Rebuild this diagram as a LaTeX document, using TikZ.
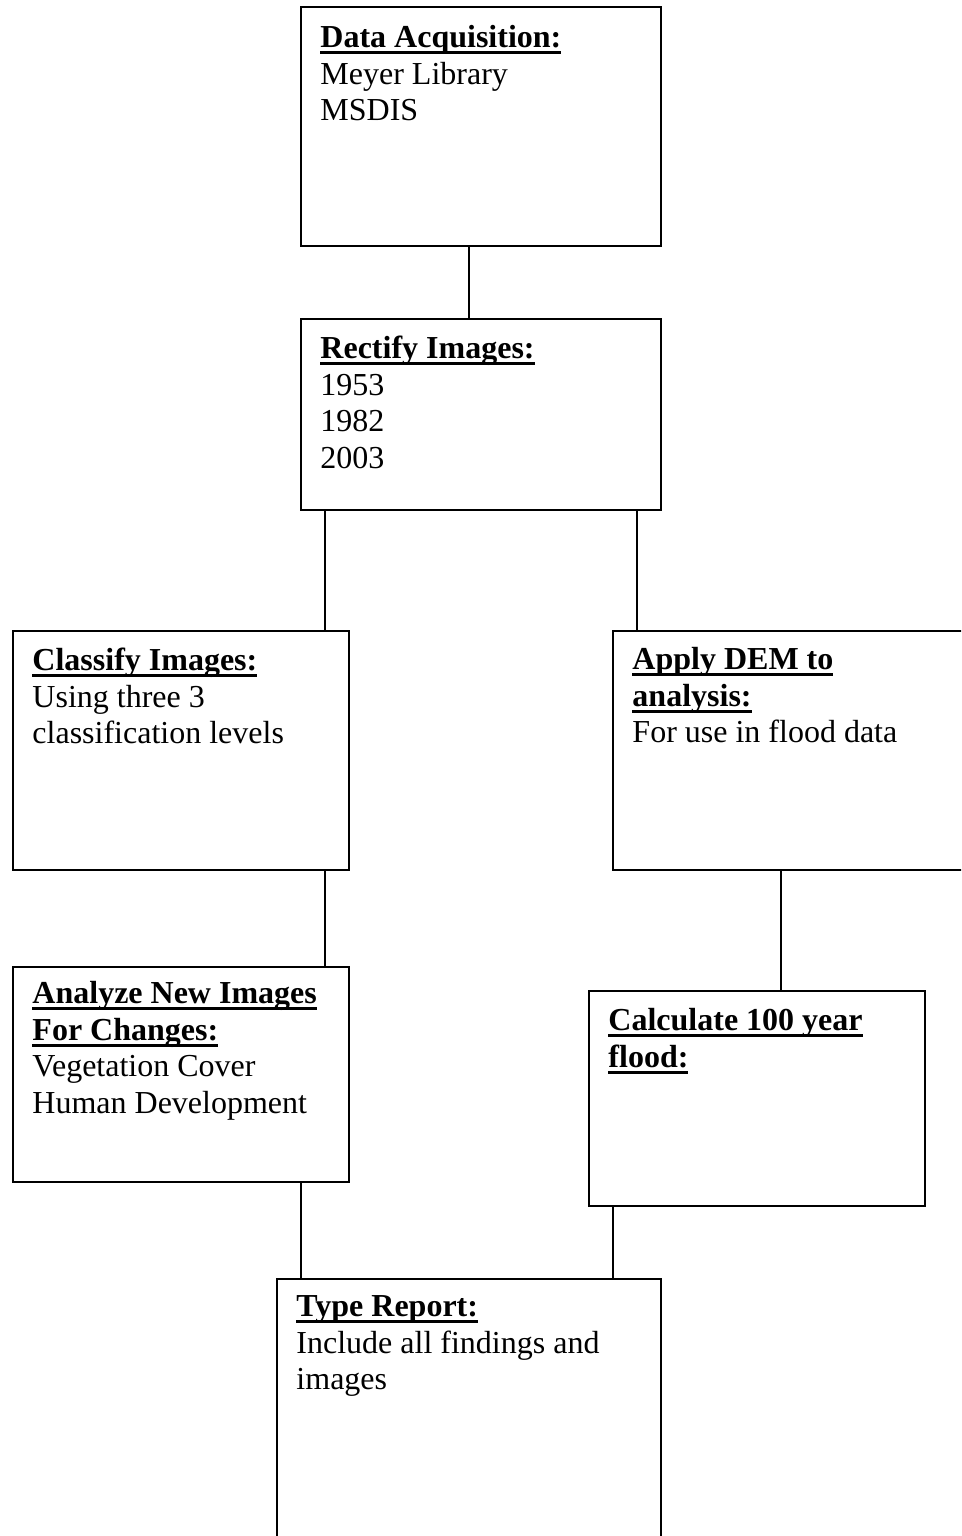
\documentclass[tikz,border=0pt]{standalone}
\usepackage{fontspec}
\setmainfont{Liberation Serif}
\usetikzlibrary{fit}

\tikzset{
  stage/.style={draw, line width=0.8pt, inner sep=0pt},
  caption/.style={anchor=north west, inner sep=0pt, align=left,
    font=\fontsize{12}{13.8}\selectfont},
  link/.style={line width=0.8pt}
}
\newsavebox\ulbox
\newcommand\uln[1]{\sbox\ulbox{\textbf{#1}}%
  \rlap{\rule[-2.5pt]{\wd\ulbox}{1.1pt}}\usebox\ulbox}
\newcommand\heading[1]{\strut\uln{#1}}

\begin{document}
\begin{tikzpicture}[x=0.375pt, y=-0.375pt]
  \useasboundingbox (0,0) rectangle (961,1536);
  \clip (0,0) rectangle (961,1536);

  % boxes
  \node[stage, fit={(301,7) (661,246)}] (acq) {};
  \node[stage, fit={(301,319) (661,510)}] (rect) {};
  \node[stage, fit={(13,631) (349,870)}] (classify) {};
  \node[stage, fit={(613,631) (980,870)}] (dem) {};
  \node[stage, fit={(13,967) (349,1182)}] (analyze) {};
  \node[stage, fit={(589,991) (925,1206)}] (flood) {};
  \node[stage, fit={(277,1279) (661,1560)}] (report) {};

  % texts
  \node[caption] (acqtxt) at ([shift={(20,15)}]acq.north west)
    {\heading{Data Acquisition:}\\Meyer Library\\MSDIS};
  \node[caption] (recttxt) at ([shift={(20,14)}]rect.north west)
    {\heading{Rectify Images:}\\1953\\1982\\2003};
  \node[caption] (classifytxt) at ([shift={(20,14)}]classify.north west)
    {\heading{Classify Images:}\\Using three 3\\classification levels};
  \node[caption] (demtxt) at ([shift={(20,13)}]dem.north west)
    {\heading{Apply DEM to}\\\uln{analysis:}\\For use in flood data};
  \node[caption] (analyzetxt) at ([shift={(20,11)}]analyze.north west)
    {\heading{Analyze New Images}\\\uln{For Changes:}\\Vegetation Cover\\Human Development};
  \node[caption] (floodtxt) at ([shift={(20,14)}]flood.north west)
    {\heading{Calculate 100 year}\\\uln{flood:}};
  \node[caption] (reporttxt) at ([shift={(20,12)}]report.north west)
    {\heading{Type Report:}\\Include all findings and\\images};

  % connectors
  \draw[link] (acq.south -| 469,0) -- (rect.north -| 469,0);
  \draw[link] (rect.south -| 325,0) -- (classify.north -| 325,0);
  \draw[link] (rect.south -| 637,0) -- (dem.north -| 637,0);
  \draw[link] (classify.south -| 325,0) -- (analyze.north -| 325,0);
  \draw[link] (dem.south -| 781,0) -- (flood.north -| 781,0);
  \draw[link] (analyze.south -| 301,0) -- (report.north -| 301,0);
  \draw[link] (flood.south -| 613,0) -- (report.north -| 613,0);
\end{tikzpicture}
\end{document}
